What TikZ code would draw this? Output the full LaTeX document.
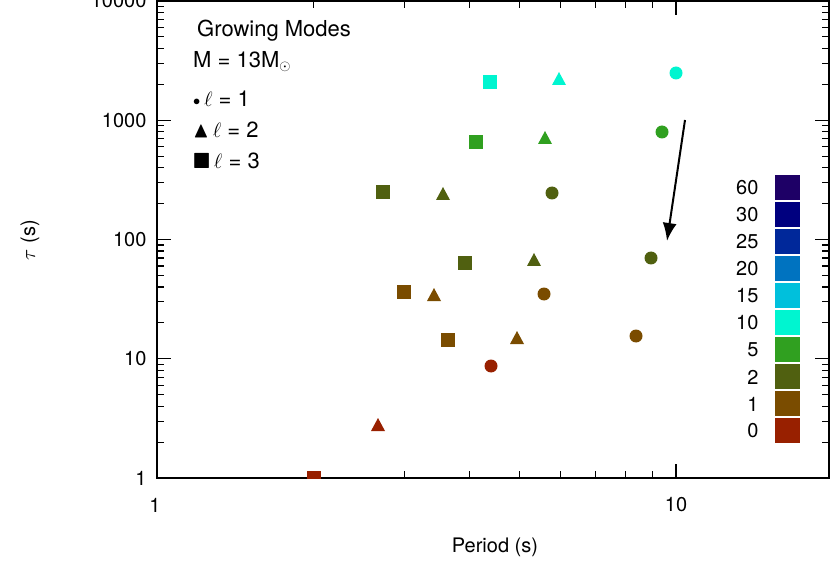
\documentclass[tikz,border=0pt]{standalone}
\usepackage{fontspec}
\setmainfont{TeX Gyre Heros}
\usepackage{amssymb}
\usetikzlibrary{arrows.meta}
\begin{document}
\begin{tikzpicture}[x=1pt,y=-1pt,
  lab/.style={font=\fontsize{20}{22}\selectfont},
  leg/.style={font=\fontsize{22}{24}\selectfont,anchor=west,inner sep=0},
  ax/.style={line width=1.6pt},
  tk/.style={line width=1.2pt}]
\definecolor{c60}{HTML}{1E0066}\definecolor{c30}{HTML}{00007F}
\definecolor{c25}{HTML}{00289A}\definecolor{c20}{HTML}{0073C0}
\definecolor{c15}{HTML}{00C0DC}\definecolor{c10}{HTML}{00F5D0}
\definecolor{c5}{HTML}{30A020}\definecolor{c2}{HTML}{506010}
\definecolor{c1}{HTML}{7A4C00}\definecolor{c0}{HTML}{982000}
\useasboundingbox (0,0) rectangle (831,567);
% minor/major ticks x
\foreach \d in {0,1}{
 \foreach \m in {2,...,9}{
  \pgfmathsetmacro\xx{157+519*(\d+log10(\m))}
  \ifdim\xx pt<829pt
  \draw[tk] (\xx,478) -- (\xx,471); \draw[tk] (\xx,1) -- (\xx,8);
  \fi}}
\foreach \xx in {157,676}{\draw[tk] (\xx,478) -- (\xx,464); \draw[tk] (\xx,1) -- (\xx,15);}
% y ticks
\foreach \d in {0,...,3}{
 \foreach \m in {2,...,9}{
  \pgfmathsetmacro\yy{478-119.25*(\d+log10(\m))}
  \draw[tk] (157,\yy) -- (164,\yy); \draw[tk] (829,\yy) -- (822,\yy);}}
\foreach \d/\t in {0/1,1/10,2/100,3/1000,4/10000}{
  \pgfmathsetmacro\yy{478-119.25*\d}
  \draw[tk] (157,\yy) -- (171,\yy); \draw[tk] (829,\yy) -- (815,\yy);
  \node[lab,anchor=east] (yl\d) at (150,\yy) {\t};}
\draw[ax] (157,1) rectangle (829,478);
\node[lab] (x1) at (155,505) {1};
\node[lab] (x10) at (676,505) {10};
\node[lab] (xlab) at (495,547) {Period (s)};
\node[lab,rotate=90] (ylab) at (30,240) {$\tau$ (s)};
% legend
\node[leg] (g1) at (197,31) {Growing Modes};
\node[leg] (g2) at (193,62) {M = 13M$_\odot$};
\node[leg] (g3) at (193,99) {\raisebox{1pt}{\Large$\bullet$}\,$\ell$ = 1};
\node[leg] (g4) at (193,130) {\raisebox{0pt}{$\blacktriangle$}\,$\ell$ = 2};
\node[leg] (g5) at (193,161) {\raisebox{0pt}{$\blacksquare$}\,$\ell$ = 3};
% data
\begin{scope}
\clip (157,1) rectangle (829,478);
\foreach \x/\y/\c in {676/73/c10,662/132/c5,552/193/c2,651/258/c2,544/294/c1,636/336/c1,491/366/c0}
  \fill[\c] (\x,\y) circle (6.5);
\foreach \x/\y/\c in {559/79/c10,545/138/c5,443/194/c2,534/260/c2,434/295/c1,517/338/c1,378/425/c0}
  \fill[\c] (\x-7,\y+6) -- (\x+7,\y+6) -- (\x,\y-7) -- cycle;
\foreach \x/\y/\c in {490/82/c10,476/142/c5,383/192/c2,465/263/c2,404/292/c1,448/340/c1,314/478/c0}
  \fill[\c] (\x-7,\y-7) rectangle (\x+7,\y+7);
\end{scope}
% arrow
\coordinate (a1) at (685,120); \coordinate (a2) at (667,241);
\draw[line width=2pt,-{Latex[length=18pt,width=14pt]}] (a1) -- (a2);
% colour bar
\foreach \c [count=\i from 0] in {60,30,25,20,15,10,5,2,1,0}{
  \fill[c\c] (775,{175+27*\i}) rectangle (800,{200+27*\i});
  \node[lab,anchor=east] (cb\i) at (762,{188+27*\i}) {\c};}
\end{tikzpicture}
\end{document}
